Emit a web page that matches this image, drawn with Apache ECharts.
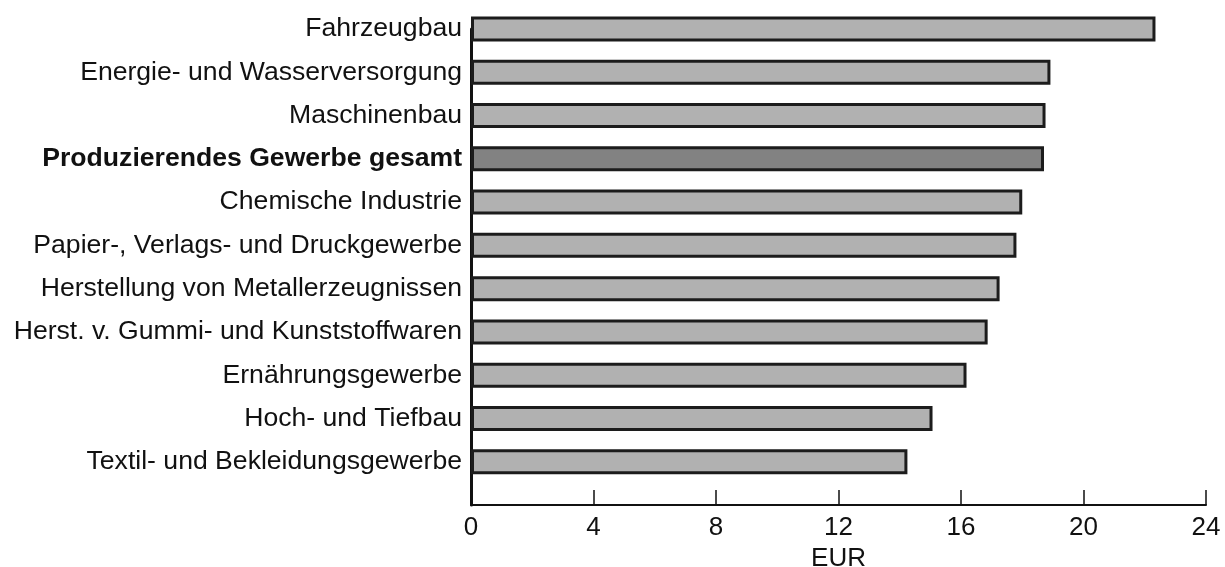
<!DOCTYPE html>
<html><head><meta charset="utf-8">
<script src="https://cdn.jsdelivr.net/npm/echarts@6/dist/echarts.min.js"></script>
<style>html,body{margin:0;padding:0;background:#fff}#c{width:1225px;height:567px}</style>
</head><body><div id="c"></div>
<script>
const categories = [
  'Fahrzeugbau',
  'Energie- und Wasserversorgung',
  'Maschinenbau',
  'Produzierendes Gewerbe gesamt',
  'Chemische Industrie',
  'Papier-, Verlags- und Druckgewerbe',
  'Herstellung von Metallerzeugnissen',
  'Herst. v. Gummi- und Kunststoffwaren',
  'Ernährungsgewerbe',
  'Hoch- und Tiefbau',
  'Textil- und Bekleidungsgewerbe'
];
const values = [22.35, 18.92, 18.76, 18.71, 18.0, 17.81, 17.26, 16.87, 16.18, 15.07, 14.25];
const highlight = 'Produzierendes Gewerbe gesamt';
const xTicks = [0, 4, 8, 12, 16, 20, 24];

const chart = echarts.init(document.getElementById('c'));
chart.setOption({
  animation: false,
  grid: { left: 471, right: 19, top: 29, bottom: 62, containLabel: false, outerBoundsMode: 'none' },
  xAxis: {
    type: 'value', min: xTicks[0], max: xTicks[xTicks.length - 1], interval: 4,
    name: 'EUR', nameLocation: 'middle', nameGap: 38,
    nameTextStyle: { fontFamily: 'Liberation Sans', fontSize: 26, color: '#111' },
    axisLine: { show: true, lineStyle: { color: '#111', width: 2 } },
    axisTick: { show: true, inside: true, length: 15, lineStyle: { color: '#111', width: 1.5 } },
    axisLabel: { fontFamily: 'Liberation Sans', fontSize: 26, color: '#111', margin: 10 },
    splitLine: { show: false }
  },
  yAxis: {
    type: 'category', data: categories, inverse: true, boundaryGap: false,
    max: categories.length,
    axisLine: { show: true, lineStyle: { color: '#111', width: 3 } },
    axisTick: { show: false },
    axisLabel: {
      margin: 9, fontFamily: 'Liberation Sans', fontSize: 26.6, color: '#111',
      formatter: v => v === highlight ? '{b|' + v + '}' : v,
      rich: { b: { fontFamily: 'Liberation Sans', fontSize: 26.6, fontWeight: 'bold', color: '#111' } }
    }
  },
  series: [{
    type: 'bar', clip: false, barWidth: 25,
    data: values.map((v, i) => ({
      value: v,
      itemStyle: { color: categories[i] === highlight ? '#828282' : '#b1b1b1' }
    })),
    itemStyle: { borderColor: '#1c1c1c', borderWidth: 3 }
  }]
});
</script></body></html>
